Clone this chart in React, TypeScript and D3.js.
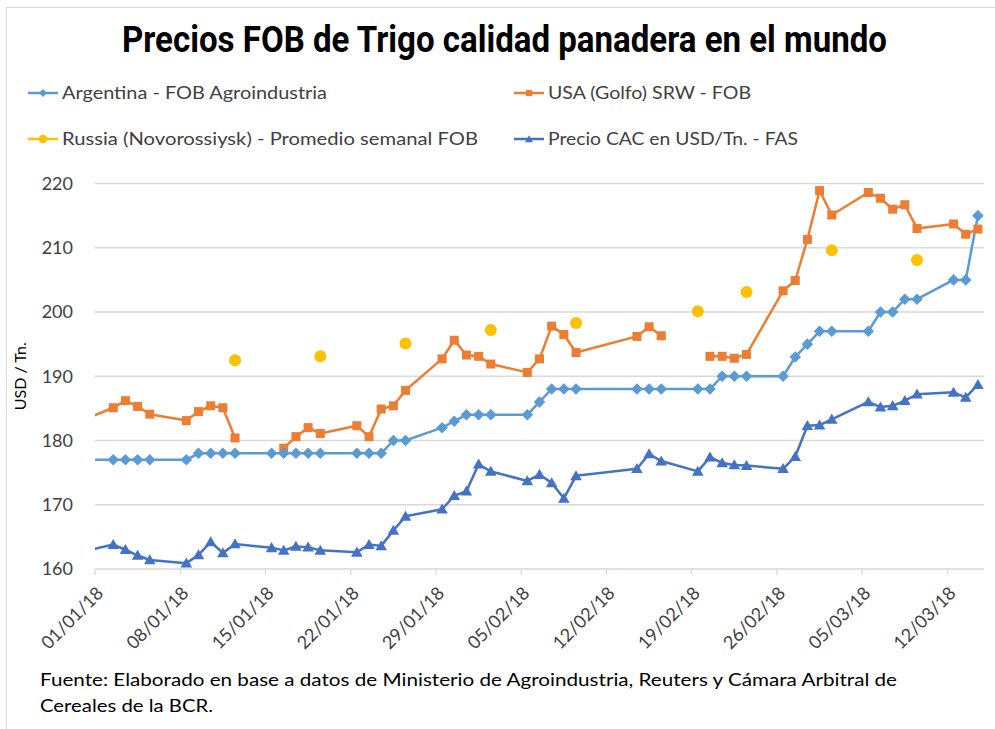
import React from "react";
import * as d3 from "d3";

// fechas hábiles (la primera queda fuera del eje, sólo para que la línea entre desde el borde)
const fechas = [
  "2017-12-29",
  "2018-01-02", "2018-01-03", "2018-01-04", "2018-01-05",
  "2018-01-08", "2018-01-09", "2018-01-10", "2018-01-11", "2018-01-12",
  "2018-01-15", "2018-01-16", "2018-01-17", "2018-01-18", "2018-01-19",
  "2018-01-22", "2018-01-23", "2018-01-24", "2018-01-25", "2018-01-26",
  "2018-01-29", "2018-01-30", "2018-01-31", "2018-02-01", "2018-02-02",
  "2018-02-05", "2018-02-06", "2018-02-07", "2018-02-08", "2018-02-09",
  "2018-02-14", "2018-02-15", "2018-02-16",
  "2018-02-19", "2018-02-20", "2018-02-21", "2018-02-22", "2018-02-23",
  "2018-02-26", "2018-02-27", "2018-02-28", "2018-03-01", "2018-03-02",
  "2018-03-05", "2018-03-06", "2018-03-07", "2018-03-08", "2018-03-09",
  "2018-03-12", "2018-03-13", "2018-03-14",
];

const argentina = [
  177,
  177, 177, 177, 177,
  177, 178, 178, 178, 178,
  178, 178, 178, 178, 178,
  178, 178, 178, 180, 180,
  182, 183, 184, 184, 184,
  184, 186, 188, 188, 188,
  188, 188, 188,
  188, 188, 190, 190, 190,
  190, 193, 195, 197, 197,
  197, 200, 200, 202, 202,
  205, 205, 215,
];

const usaGolfo = [
  182.0,
  185.1, 186.2, 185.3, 184.1,
  183.1, 184.5, 185.4, 185.1, 180.4,
  null, 178.8, 180.6, 182.0, 181.1,
  182.3, 180.6, 184.9, 185.4, 187.8,
  192.7, 195.6, 193.3, 193.1, 191.9,
  190.6, 192.7, 197.8, 196.5, 193.7,
  196.2, 197.7, 196.3,
  null, 193.1, 193.1, 192.8, 193.4,
  203.3, 204.9, 211.3, 218.9, 215.1,
  218.6, 217.7, 216.0, 216.7, 213.0,
  213.7, 212.1, 212.9,
];

const cacFas = [
  162.1,
  163.8, 163.0, 162.1, 161.4,
  160.9, 162.2, 164.2, 162.5, 163.9,
  163.3, 162.9, 163.5, 163.4, 162.9,
  162.6, 163.8, 163.6, 166.0, 168.2,
  169.3, 171.4, 172.1, 176.3, 175.2,
  173.7, 174.7, 173.4, 171.0, 174.5,
  175.6, 177.9, 176.8,
  175.2, 177.4, 176.5, 176.2, 176.1,
  175.6, 177.5, 182.3, 182.4, 183.3,
  186.0, 185.2, 185.4, 186.2, 187.2,
  187.5, 186.7, 188.7,
];

const russiaFechas = [
  "2018-01-12", "2018-01-19", "2018-01-26", "2018-02-02", "2018-02-09",
  "2018-02-19", "2018-02-23", "2018-03-02", "2018-03-09",
];
const russia = [192.5, 193.1, 195.1, 197.2, 198.3, 200.1, 203.1, 209.6, 208.1];

const xTicks = [
  "2018-01-01", "2018-01-08", "2018-01-15", "2018-01-22", "2018-01-29", "2018-02-05",
  "2018-02-12", "2018-02-19", "2018-02-26", "2018-03-05", "2018-03-12",
];
const yTicks = [160, 170, 180, 190, 200, 210, 220];

const C_ARG = "#5B9BD5";
const C_USA = "#ED7D31";
const C_RUS = "#FFC000";
const C_CAC = "#4472C4";

const W = 995;
const H = 729;
const left = 95;
const right = 984;
const top = 183.5;
const bottom = 569;

const parse = d3.utcParse("%Y-%m-%d");
const fmt = d3.utcFormat("%d/%m/%y");
const halfDay = 12 * 3600 * 1000;

const x = d3
  .scaleUtc()
  .domain([parse("2018-01-01")!, parse("2018-03-15")!])
  .range([left, right]);
// Excel date axis: cada punto va en el centro de su día
const xDay = (s: string) => x(new Date(parse(s)!.getTime() + halfDay));
const y = d3.scaleLinear().domain([160, 220]).range([bottom, top]);

type Pt = { f: string; v: number | null };
const serie = (vals: (number | null)[]): Pt[] => fechas.map((f, i) => ({ f, v: vals[i] }));

const line = d3
  .line<Pt>()
  .defined((d) => d.v != null)
  .x((d) => xDay(d.f))
  .y((d) => y(d.v as number));

const diamond = d3.symbol().type(d3.symbolDiamond2);
const triangle = d3.symbol().type(d3.symbolTriangle);

function Marker({ kind, cx, cy, s = 1 }: { kind: string; cx: number; cy: number; s?: number }) {
  if (kind === "arg")
    return <path d={diamond.size(85 * s * s)()!} transform={`translate(${cx},${cy})`} fill={C_ARG} />;
  if (kind === "usa")
    return <rect x={cx - 4.5 * s} y={cy - 4.5 * s} width={9 * s} height={9 * s} fill={C_USA} />;
  if (kind === "rus") return <circle cx={cx} cy={cy} r={6 * s} fill={C_RUS} />;
  return <path d={triangle.size(58 * s * s)()!} transform={`translate(${cx},${cy + 1})`} fill={C_CAC} />;
}

const legend = [
  { kind: "arg", color: C_ARG, label: "Argentina - FOB Agroindustria", lx: 28, ly: 93, tl: 265 },
  { kind: "usa", color: C_USA, label: "USA (Golfo) SRW - FOB", lx: 514, ly: 93, tl: 203 },
  { kind: "rus", color: C_RUS, label: "Russia (Novorossiysk) - Promedio semanal FOB", lx: 28, ly: 139, tl: 416 },
  { kind: "cac", color: C_CAC, label: "Precio CAC en USD/Tn. - FAS", lx: 514, ly: 139, tl: 250 },
];

export default function App() {
  const font = "Lato, 'Open Sans', sans-serif";
  const lineSeries = [
    { kind: "usa", color: C_USA, data: serie(usaGolfo) },
    { kind: "arg", color: C_ARG, data: serie(argentina) },
    { kind: "cac", color: C_CAC, data: serie(cacFas) },
  ];
  return (
    <svg
      width={W}
      height={H}
      style={{ position: "absolute", left: 0, top: 0, background: "#fff" }}
      fontFamily={font}
    >
      <defs>
        <clipPath id="plot">
          <rect x={left} y={top - 10} width={right - left + 10} height={bottom - top + 20} />
        </clipPath>
      </defs>
      <rect x={6.5} y={7.5} width={W} height={H} fill="none" stroke="#d9d9d9" />

      <text
        x={122}
        y={52}
        fontFamily="'Liberation Sans Narrow', Roboto, sans-serif"
        fontWeight="bold"
        fontSize={37}
        fill="#000"
        textLength={765}
        lengthAdjust="spacingAndGlyphs"
      >
        Precios FOB de Trigo calidad panadera en el mundo
      </text>

      {legend.map((l) => (
        <g key={l.label}>
          <line x1={l.lx} x2={l.lx + 30} y1={l.ly} y2={l.ly} stroke={l.color} strokeWidth={2.5} />
          <Marker kind={l.kind} cx={l.lx + 15} cy={l.ly} s={0.7} />
          <text x={l.lx + 34} y={l.ly + 6} fontSize={17} fill="#404040" textLength={l.tl} lengthAdjust="spacingAndGlyphs">
            {l.label}
          </text>
        </g>
      ))}

      {yTicks.map((t) => (
        <g key={t}>
          <line x1={left} x2={right} y1={y(t)} y2={y(t)} stroke="#d9d9d9" strokeWidth={1.3} />
          <text x={73} y={y(t)} dy="0.35em" textAnchor="end" fontSize={18} fill="#404040">
            {t}
          </text>
        </g>
      ))}
      {xTicks.map((t) => (
        <g key={t}>
          <line x1={x(parse(t)!)} x2={x(parse(t)!)} y1={bottom} y2={bottom + 6} stroke="#d9d9d9" strokeWidth={1.3} />
          <text
            transform={`translate(${x(parse(t)!) + 5},${bottom + 21}) rotate(-45)`}
            textAnchor="end"
            dy="0.35em"
            fontSize={18}
            fill="#404040"
          >
            {fmt(parse(t)!)}
          </text>
        </g>
      ))}
      <text
        transform={`translate(26,${(top + bottom) / 2}) rotate(-90)`}
        textAnchor="middle"
        fontSize={16}
        fill="#000"
      >
        USD / Tn.
      </text>

      <g clipPath="url(#plot)">
        {lineSeries.map((s) => (
          <path key={s.kind} d={line(s.data)!} fill="none" stroke={s.color} strokeWidth={2.5} strokeLinejoin="round" />
        ))}
      </g>
      {lineSeries.map((s) =>
        s.data
          .filter((d) => d.v != null && parse(d.f)! >= parse("2018-01-01")!)
          .map((d) => <Marker key={s.kind + d.f} kind={s.kind} cx={xDay(d.f)} cy={y(d.v as number)} />)
      )}
      {russiaFechas.map((f, i) => (
        <Marker key={"rus" + f} kind="rus" cx={xDay(f)} cy={y(russia[i])} />
      ))}

      <text x={40} y={686} fontSize={17} fill="#000" textLength={857} lengthAdjust="spacingAndGlyphs">
        Fuente: Elaborado en base a datos de  Ministerio de Agroindustria, Reuters y Cámara Arbitral de
      </text>
      <text x={40} y={712} fontSize={17} fill="#000" textLength={173} lengthAdjust="spacingAndGlyphs">
        Cereales de la BCR.
      </text>
    </svg>
  );
}
